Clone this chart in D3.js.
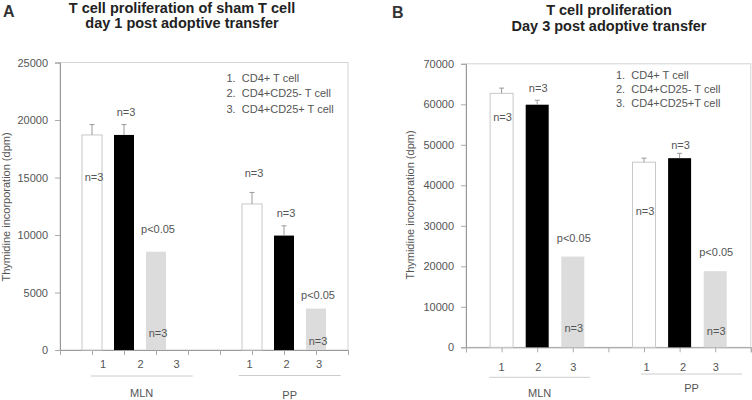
<!DOCTYPE html>
<html>
<head>
<meta charset="utf-8">
<script src="https://cdn.jsdelivr.net/npm/d3@7"></script>
<style>
  body { margin: 0; background: #fff; }
  svg { display: block; font-family: "Liberation Sans", Arial, sans-serif; }
</style>
</head>
<body>
<div id="chart"></div>
<script>
// values
var groupNames = ["MLN", "PP"];
var cellLabels = ["1", "2", "3", "1", "2", "3"];
var barKinds = ["white", "black", "grey", "white", "black", "grey"];

var legendA = ["1.  CD4+ T cell", "2.  CD4+CD25- T cell", "3.  CD4+CD25+ T cell"];
var legendB = ["1.  CD4+ T cell", "2.  CD4+CD25- T cell", "3.  CD4+CD25+T cell"];

var day1Mean = [18700, 18700, 8550, 12700, 9950, 3600];
var day1Err  = [900, 900, 0, 1000, 850, 0];
var day3Mean = [62700, 59900, 22400, 45700, 46700, 18800];
var day3Err  = [1300, 1100, 0, 1000, 1200, 0];

var day1Ticks = [0, 5000, 10000, 15000, 20000, 25000];
var day3Ticks = [0, 10000, 20000, 30000, 40000, 50000, 60000, 70000];

// annotations: bar index, text, height (dpm) where the text sits
var day1Notes = [
  [0, "n=3", 15000], [1, "n=3", 20700], [2, "p<0.05", 10500], [2, "n=3", 1500],
  [3, "n=3", 15400], [4, "n=3", 11900], [5, "p<0.05", 4800], [5, "n=3", 800]
];
var day3Notes = [
  [0, "n=3", 56800], [1, "n=3", 64000], [2, "p<0.05", 27000], [2, "n=3", 4700],
  [3, "n=3", 33600], [4, "n=3", 50000], [5, "p<0.05", 23600], [5, "n=3", 3900]
];

var svg = d3.select("#chart").append("svg")
    .attr("width", 752)
    .attr("height", 400);

var fills = { white: "#fff", black: "#000", grey: "#dcdcdc" };

function drawPanel(o) {
    var x = d3.scaleLinear().domain([0, o.slots]).range([o.left, o.right]);
    var y = d3.scaleLinear().domain([0, o.yMax]).range([o.bottom, o.top]);

    var g = svg.append("g");

    // panel letter and title
    g.append("text").attr("x", o.letterX).attr("y", o.letterY)
        .style("font-size", "16px").style("font-weight", "bold").style("fill", "#333")
        .text(o.letter);
    o.title.forEach(function(t, i) {
        g.append("text").attr("x", o.titleX).attr("y", o.titleY + i * 15.5)
            .attr("text-anchor", "middle")
            .style("font-size", "14.5px").style("font-weight", "bold").style("fill", "#222")
            .text(t);
    });

    // plot frame
    g.append("rect")
        .attr("x", o.left).attr("y", o.top)
        .attr("width", o.right - o.left).attr("height", o.bottom - o.top)
        .style("fill", "none").style("stroke", "#d4d4d4");

    // y axis
    var yAxis = g.append("g")
        .attr("transform", "translate(" + o.left + ",0)")
        .call(d3.axisLeft(y).tickValues(o.ticks).tickSize(5).tickPadding(7).tickFormat(d3.format("d")));
    yAxis.select(".domain").attr("stroke", "#999");
    yAxis.selectAll(".tick line").attr("stroke", "#aaa");
    yAxis.selectAll(".tick text").style("font-size", "11px").style("fill", "#555")
        .style("font-family", "Liberation Sans, Arial, sans-serif");

    // x axis: ticks only
    var xAxis = g.append("g")
        .attr("transform", "translate(0," + o.bottom + ")")
        .call(d3.axisBottom(x).ticks(o.slots).tickSize(5).tickFormat(""));
    xAxis.select(".domain").attr("stroke", "#999");
    xAxis.selectAll(".tick line").attr("stroke", "#aaa");

    g.append("text")
        .attr("transform", "translate(" + o.yLabelX + "," + o.yLabelY + ") rotate(-90)")
        .attr("text-anchor", "middle")
        .style("font-size", "11px").style("fill", "#555")
        .text("Thymidine incorporation (dpm)");

    var bars = o.mean.map(function(v, i) {
        return { v: v, e: o.err[i], kind: barKinds[i], pos: o.positions[i] };
    });

    g.selectAll("rect.bar").data(bars).enter().append("rect")
        .attr("class", "bar")
        .attr("x", function(d) { return x(d.pos) - o.barW / 2; })
        .attr("y", function(d) { return y(d.v); })
        .attr("width", o.barW)
        .attr("height", function(d) { return y(0) - y(d.v); })
        .style("fill", function(d) { return fills[d.kind]; })
        .style("stroke", function(d) { return d.kind === "white" ? "#c8c8c8" : "none"; });

    // error bars
    var eb = bars.filter(function(d) { return d.e > 0; });
    g.selectAll("line.err").data(eb).enter().append("line")
        .attr("x1", function(d) { return x(d.pos); })
        .attr("x2", function(d) { return x(d.pos); })
        .attr("y1", function(d) { return y(d.v); })
        .attr("y2", function(d) { return y(d.v + d.e); })
        .style("stroke", "#999");
    g.selectAll("line.cap").data(eb).enter().append("line")
        .attr("x1", function(d) { return x(d.pos) - 2.5; })
        .attr("x2", function(d) { return x(d.pos) + 2.5; })
        .attr("y1", function(d) { return y(d.v + d.e); })
        .attr("y2", function(d) { return y(d.v + d.e); })
        .style("stroke", "#999");

    // n / p notes
    g.selectAll("text.note").data(o.notes).enter().append("text")
        .attr("x", function(d) { return x(o.positions[d[0]]) + o.noteDx; })
        .attr("y", function(d) { return y(d[2]); })
        .attr("dy", "0.35em")
        .attr("text-anchor", "middle")
        .style("font-size", "11px").style("fill", "#555")
        .text(function(d) { return d[1]; });

    // category numbers under the axis
    g.selectAll("text.cat").data(cellLabels).enter().append("text")
        .attr("x", function(d, i) { return x(o.positions[i]) + o.catDx[i]; })
        .attr("y", o.catY)
        .attr("dy", "0.35em")
        .attr("text-anchor", "middle")
        .style("font-size", "11px").style("fill", "#555")
        .text(function(d) { return d; });

    // group brackets and names
    groupNames.forEach(function(name, i) {
        var gl = o.groupLines[i];
        g.append("line")
            .attr("x1", gl[0]).attr("x2", gl[1]).attr("y1", gl[2]).attr("y2", gl[2])
            .style("stroke", "#ccc");
        g.append("text")
            .attr("x", (gl[0] + gl[1]) / 2).attr("y", o.groupY[i])
            .attr("dy", "0.35em")
            .attr("text-anchor", "middle")
            .style("font-size", "11px").style("fill", "#555")
            .text(name);
    });

    // legend
    o.legend.forEach(function(t, i) {
        g.append("text")
            .attr("x", o.legendX).attr("y", o.legendY[i])
            .attr("dy", "0.35em")
            .style("white-space", "pre")
            .style("font-size", "11px").style("fill", "#555")
            .text(t);
    });
}

drawPanel({
    letter: "A", letterX: 3, letterY: 17,
    title: ["T cell proliferation of sham T cell", "day 1 post adoptive transfer"],
    titleX: 182, titleY: 12.5,
    left: 60, right: 348, top: 62.5, bottom: 350,
    slots: 9, positions: [1, 2, 3, 6, 7, 8], barW: 20,
    yMax: 25000, ticks: day1Ticks,
    mean: day1Mean, err: day1Err, notes: day1Notes, noteDx: 2,
    yLabelX: 10, yLabelY: 207,
    catDx: [11, 16.5, 20.5, -2.5, 2.5, 3], catY: 364,
    groupLines: [[90.7, 192.7, 376], [238.7, 340.7, 375.5]], groupY: [393, 395],
    legend: legendA, legendX: 226.5, legendY: [78.5, 93.5, 109.5]
});

drawPanel({
    letter: "B", letterX: 392, letterY: 18,
    title: ["T cell proliferation", "Day 3 post adoptive transfer"],
    titleX: 609, titleY: 15,
    left: 466, right: 750.8, top: 63.8, bottom: 347.3,
    slots: 8, positions: [1, 2, 3, 5, 6, 7], barW: 23,
    yMax: 70000, ticks: day3Ticks,
    mean: day3Mean, err: day3Err, notes: day3Notes, noteDx: 1,
    yLabelX: 414, yLabelY: 205,
    catDx: [0, 1, 0.5, 2.5, 3.5, 0.5], catY: 366.7,
    groupLines: [[489.3, 590, 377.3], [641, 742, 374]], groupY: [393.3, 388.3],
    legend: legendB, legendX: 616, legendY: [75, 89, 103]
});
</script>
</body>
</html>
